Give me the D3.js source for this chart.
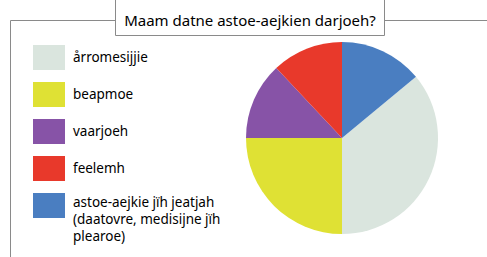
<!DOCTYPE html>
<html>
<head>
<meta charset="utf-8">
<script src="https://cdn.jsdelivr.net/npm/d3@7"></script>
<style>
  html, body { margin: 0; padding: 0; background: #fff; }
  svg { display: block; font-family: "Comic Sans MS", "Noto Sans", sans-serif; }
</style>
</head>
<body>
<div id="chart"></div>
<script>
// data
const title = "Maam datne astoe-aejkien darjoeh?";
const categories = ["årromesijjie", "beapmoe", "vaarjoeh", "feelemh", "astoe-aejkie jïh jeatjah (daatovre, medisijne jïh plearoe)"];
const labelLines = [["årromesijjie"], ["beapmoe"], ["vaarjoeh"], ["feelemh"], ["astoe-aejkie jïh jeatjah", "(daatovre, medisijne jïh", "plearoe)"]];
const values = [36, 25, 13, 12, 14];
const colors = ["#dae5de", "#dfe134", "#8753a7", "#e8392b", "#4a7ec1"];

const W = 487, H = 257;
const svg = d3.select("#chart").append("svg").attr("width", W).attr("height", H);

// frame + title box
const frame = svg.append("g").attr("stroke", "#8a8a8a").attr("stroke-width", 1).attr("fill", "none");
frame.append("path").attr("d", "M10.5,257 V20.5 H115.5");
frame.append("path").attr("d", "M384.5,20.5 H487");
frame.append("path").attr("d", "M115.5,0 V35.5 H384.5 V0");

svg.append("text")
  .attr("x", 250).attr("y", 26)
  .attr("text-anchor", "middle")
  .attr("font-size", 15)
  .attr("fill", "#000")
  .text(title);

// legend
const legend = svg.append("g").attr("transform", "translate(33,45)");
const item = legend.selectAll("g").data(categories).enter().append("g")
  .attr("transform", (d, i) => `translate(0,${i * 37})`);
item.append("rect").attr("width", 32).attr("height", 25).attr("fill", (d, i) => colors[i]);

// one text per line so wrapped lines stay separate
item.each(function (d, i) {
  const lines = labelLines[i];
  const y0 = lines.length > 1 ? 14 : 16.5;
  d3.select(this).selectAll("text").data(lines).enter().append("text")
    .attr("x", 40)
    .attr("y", (t, j) => y0 + j * 17)
    .attr("font-size", 13.5)
    .attr("fill", "#000")
    .text(t => t);
});

// pie: blue slice starts at 12 o'clock, so rotate by its share
const total = d3.sum(values);
const start = 2 * Math.PI * values[values.length - 1] / total;
const pie = d3.pie().sort(null).startAngle(start).endAngle(start + 2 * Math.PI);
const arc = d3.arc().innerRadius(0).outerRadius(96);

svg.append("g").attr("transform", "translate(342,138)")
  .selectAll("path").data(pie(values)).enter().append("path")
  .attr("d", arc)
  .attr("fill", (d, i) => colors[i]);
</script>
</body>
</html>
